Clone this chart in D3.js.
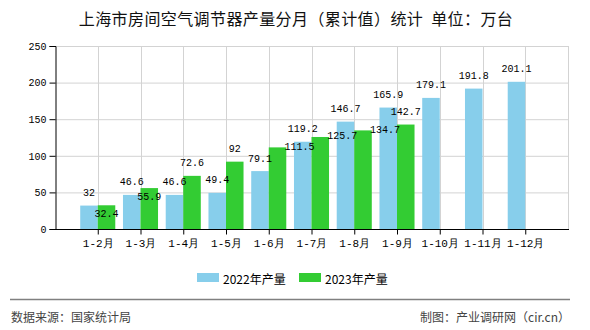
<!DOCTYPE html>
<html><head><meta charset="utf-8">
<script src="https://cdn.jsdelivr.net/npm/d3@7"></script>
<style>
html,body{margin:0;padding:0;background:#fff;}
svg{display:block;}
</style></head>
<body>
<svg id="chart" width="590" height="330"></svg>
<script>
const categories = ["1-2月","1-3月","1-4月","1-5月","1-6月","1-7月","1-8月","1-9月","1-10月","1-11月","1-12月"];
const values2022 = [32, 46.6, 46.6, 49.4, 79.1, 119.2, 146.7, 165.9, 179.1, 191.8, 201.1];
const values2023 = [32.4, 55.9, 72.6, 92, 111.5, 125.7, 134.7, 142.7, null, null, null];
const yTicks = [0, 50, 100, 150, 200, 250];
const seriesNames = ["2022年产量", "2023年产量"];
const seriesColors = ["#87CEEB", "#33CC33"];
const titleText = "上海市房间空气调节器产量分月（累计值）统计\u00A0\u00A0单位：万台";
const sourceText = "数据来源：国家统计局";
const creditText = "制图：产业调研网（cir.cn）";

const svg = d3.select("#chart");
const L = 55, R = 568, T = 46, B = 229;
const cjk = "'Noto Sans CJK SC', sans-serif";
const mono = "'Liberation Mono', 'DejaVu Sans Mono', monospace";

const x = d3.scalePoint().domain(categories).range([L, R]).padding(1);
const y = d3.scaleLinear().domain([0, 250]).range([B, T]);
const bw = x.step() * 0.41;

// title
svg.append("text").attr("x", 296).attr("y", 25).attr("text-anchor", "middle")
  .attr("font-family", cjk).attr("font-size", 16).attr("letter-spacing", 0.4)
  .attr("fill", "#111").text(titleText);

// grid
const grid = svg.append("g");
grid.selectAll("line.h").data(yTicks.filter(d => d > 0)).enter().append("line")
  .attr("x1", L).attr("x2", R).attr("y1", d => y(d) + 0.5).attr("y2", d => y(d) + 0.5)
  .attr("stroke", "#d3d3d3").attr("stroke-width", 1);
grid.selectAll("line.v").data(categories).enter().append("line")
  .attr("x1", d => Math.round(x(d)) + 0.5).attr("x2", d => Math.round(x(d)) + 0.5)
  .attr("y1", T).attr("y2", B).attr("stroke", "#d3d3d3");
grid.append("line").attr("x1", R + 0.5).attr("x2", R + 0.5).attr("y1", T).attr("y2", B).attr("stroke", "#d3d3d3");

// bars
const bars = svg.append("g");
bars.selectAll("rect.s1").data(categories).enter().append("rect")
  .attr("x", d => x(d) - bw).attr("width", bw)
  .attr("y", (d, i) => y(values2022[i])).attr("height", (d, i) => B - y(values2022[i]))
  .attr("fill", seriesColors[0]);
bars.selectAll("rect.s2").data(categories.filter((d, i) => values2023[i] != null)).enter().append("rect")
  .attr("x", d => x(d)).attr("width", bw)
  .attr("y", (d, i) => y(values2023[i])).attr("height", (d, i) => B - y(values2023[i]))
  .attr("fill", seriesColors[1]);

// axes
const yAxis = svg.append("g").attr("transform", `translate(${L + 0.5},0)`)
  .call(d3.axisLeft(y).tickValues(yTicks).tickSize(6).tickPadding(3));
yAxis.select(".domain").attr("stroke", "#000");
yAxis.selectAll(".tick line").attr("stroke", "#000");
yAxis.selectAll("text").attr("font-family", mono).attr("font-size", 10).attr("fill", "#000");

const xAxis = svg.append("g").attr("transform", `translate(0,${B + 0.5})`)
  .call(d3.axisBottom(x).tickSize(5).tickSizeOuter(0).tickPadding(5));
xAxis.select(".domain").attr("stroke", "#000").attr("d", `M${L},0H${R + 1}`);
xAxis.selectAll(".tick line").attr("stroke", "#000");
xAxis.selectAll("text").attr("font-family", mono).attr("font-size", 11).attr("fill", "#000");

// labels with simple collision avoidance
const labG = svg.append("g").attr("font-family", mono).attr("font-size", 10).attr("fill", "#000");
const placed = [];
function fmt(v) { return String(v); }
function addLabel(cx, cy, txt) {
  return labG.append("text").attr("x", cx).attr("y", cy).attr("text-anchor", "middle")
    .attr("dominant-baseline", "central").text(txt);
}
function box(t) { const b = t.node().getBBox(); return {x0: b.x, x1: b.x + b.width, y0: b.y, y1: b.y + b.height}; }
function hits(b) { return placed.some(p => b.x0 < p.x1 && b.x1 > p.x0 && b.y0 < p.y1 && b.y1 > p.y0); }

categories.forEach((c, i) => {
  const t = addLabel(x(c) - bw / 2, y(values2022[i]) - 12, fmt(values2022[i]));
  placed.push(box(t));
});
categories.forEach((c, i) => {
  const v = values2023[i];
  if (v == null) return;
  const cx = x(c) + bw / 2, top = y(v);
  const cands = [[cx, top - 12], [cx, top + 9], [cx + 22, top]];
  const t = addLabel(cands[0][0], cands[0][1], fmt(v));
  for (const [px, py] of cands) {
    t.attr("x", px).attr("y", py);
    if (!hits(box(t))) break;
  }
  placed.push(box(t));
});

// legend
const lg = svg.append("g");
const legX = [197, 299];
seriesNames.forEach((n, i) => {
  lg.append("rect").attr("x", legX[i]).attr("y", 273).attr("width", 22).attr("height", 9).attr("fill", seriesColors[i]);
  lg.append("text").attr("x", legX[i] + 26).attr("y", 278).attr("dominant-baseline", "central")
    .attr("font-family", cjk).attr("font-size", 12).attr("fill", "#000").text(n);
});

// footer
svg.append("line").attr("x1", 10).attr("x2", 570).attr("y1", 299.5).attr("y2", 299.5).attr("stroke", "#808080").attr("stroke-width", 1.5);
svg.append("text").attr("x", 11).attr("y", 316).attr("dominant-baseline", "central")
  .attr("font-family", cjk).attr("font-size", 12).attr("fill", "#444").text(sourceText);
svg.append("text").attr("x", 570).attr("y", 316).attr("dominant-baseline", "central").attr("text-anchor", "end")
  .attr("font-family", cjk).attr("font-size", 12).attr("fill", "#444").text(creditText);
</script>
</body></html>
